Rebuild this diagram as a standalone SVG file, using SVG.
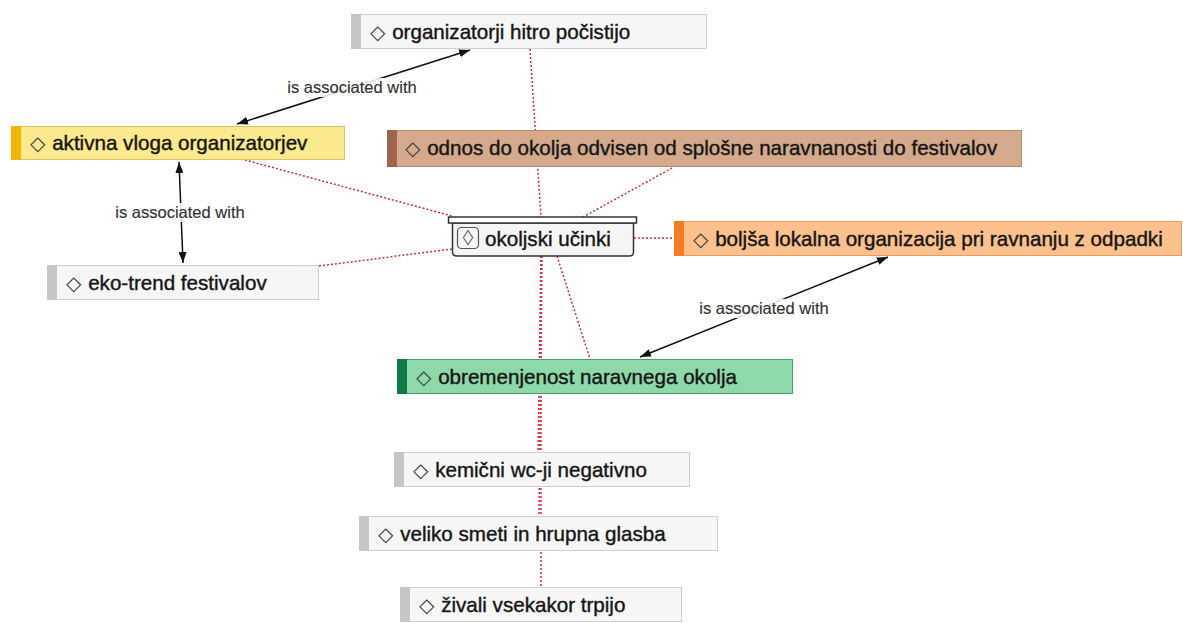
<svg xmlns="http://www.w3.org/2000/svg" width="1183" height="623" viewBox="0 0 1183 623">
<defs>
<marker id="arr" viewBox="0 0 10 10" refX="10" refY="5" markerWidth="11" markerHeight="8" markerUnits="userSpaceOnUse" orient="auto-start-reverse" preserveAspectRatio="none">
<path d="M0,0 L10,5 L0,10 z" fill="#111"/>
</marker>
</defs>
<style>
text{font-family:"Liberation Sans","DejaVu Sans",Arial,sans-serif;}
.t{font-size:20.6px;fill:#161616;stroke:#161616;stroke-width:0.4px;}
.d{font-size:20px;fill:#3a3a3a;stroke:none;}
.lbl{font-size:16.5px;fill:#333;stroke:#333;stroke-width:0.15px;}
.lb{fill:#fff;opacity:0.85;}
.dot{stroke:#c8323c;stroke-width:1.5;stroke-dasharray:2 2;fill:none;}
.assoc{stroke:#111;stroke-width:1.5;fill:none;marker-start:url(#arr);marker-end:url(#arr);}
.gray rect.b{fill:#f6f6f6;stroke:#cfcfcf;}
.gray rect.s{fill:#c6c6c6;}
</style>
<rect width="1183" height="623" fill="#fff"/>
<g id="connectors">
<line class="dot" x1="530" y1="49" x2="541" y2="217"/>
<line class="dot" x1="245" y1="160" x2="452" y2="216"/>
<line class="dot" x1="672" y1="168" x2="583" y2="217"/>
<line class="dot" x1="319" y1="266" x2="452" y2="249"/>
<line class="dot" x1="634" y1="238" x2="674" y2="238"/>
<line class="dot" x1="557" y1="256" x2="590" y2="359"/>
<line class="dot" x1="541" y1="256" x2="538" y2="452"/>
<line class="dot" x1="542" y1="256" x2="539" y2="516"/>
<line class="dot" x1="541" y1="256" x2="541" y2="587"/>
<line class="assoc" x1="237" y1="124" x2="470" y2="50"/>
<rect class="lb" x="284" y="78" width="138" height="19"/>
<text class="lbl" x="352" y="93" text-anchor="middle">is associated with</text>
<line class="assoc" x1="179" y1="162" x2="183" y2="263"/>
<rect class="lb" x="111" y="203" width="138" height="19"/>
<text class="lbl" x="180" y="218" text-anchor="middle">is associated with</text>
<line class="assoc" x1="640" y1="357" x2="888" y2="257"/>
<rect class="lb" x="695" y="299" width="138" height="19"/>
<text class="lbl" x="764" y="314" text-anchor="middle">is associated with</text>
</g>
<g id="n-org" class="gray">
<rect class="b" x="351.5" y="14.5" width="355" height="34"/>
<rect class="s" x="351" y="14" width="10" height="35"/>
<text class="t" x="370" y="39"><tspan class="d">◇</tspan> <tspan dx="1">organizatorji hitro počistijo</tspan></text>
</g>
<g id="n-aktivna">
<rect x="11.5" y="126.5" width="333" height="33" fill="#fbe98e" stroke="#d9c35c"/>
<rect x="11" y="126" width="10" height="34" fill="#f2b705"/>
<text class="t" x="30" y="150"><tspan class="d">◇</tspan> <tspan dx="1">aktivna vloga organizatorjev</tspan></text>
</g>
<g id="n-odnos">
<rect x="387.5" y="130.5" width="634" height="36" fill="#d5aa8c" stroke="#b98a6c"/>
<rect x="387" y="130" width="10" height="37" fill="#a0644a"/>
<text class="t" x="405" y="155"><tspan class="d">◇</tspan> <tspan dx="1">odnos do okolja odvisen od splošne naravnanosti do festivalov</tspan></text>
</g>
<g id="n-center">
<path d="M452.5,223 L633.5,223 L633.5,252 Q633.5,256 629.5,256 L456.5,256 Q452.5,256 452.5,252 Z" fill="#f5f5f5" stroke="#333" stroke-width="1.5"/>
<rect x="448.5" y="217" width="188" height="6" fill="#fff" stroke="#333" stroke-width="1.5"/>
<rect x="457.5" y="227.5" width="21" height="21" rx="4" fill="#f5f5f5" stroke="#555" stroke-width="1.2"/>
<text x="468" y="241.5" text-anchor="middle" style="font-size:16px;fill:#444" transform="translate(468 238) scale(0.85 1.3) translate(-468 -238)">◇</text>
<text class="t" x="485" y="246">okoljski učinki</text>
</g>
<g id="n-boljsa">
<rect x="674.5" y="221.5" width="507" height="34" fill="#fcc08c" stroke="#eb9c5c"/>
<rect x="674" y="221" width="10" height="35" fill="#f57c1f"/>
<text class="t" x="693" y="246"><tspan class="d">◇</tspan> <tspan dx="1">boljša lokalna organizacija pri ravnanju z odpadki</tspan></text>
</g>
<g id="n-eko" class="gray">
<rect class="b" x="47.5" y="265.5" width="271" height="34"/>
<rect class="s" x="47" y="265" width="10" height="35"/>
<text class="t" x="66" y="290"><tspan class="d">◇</tspan> <tspan dx="1">eko-trend festivalov</tspan></text>
</g>
<g id="n-obrem">
<rect x="397.5" y="359.5" width="395" height="34" fill="#8ed9a9" stroke="#4aa16d"/>
<rect x="397" y="359" width="10" height="35" fill="#0f7a45"/>
<text class="t" x="416" y="384"><tspan class="d">◇</tspan> <tspan dx="1">obremenjenost naravnega okolja</tspan></text>
</g>
<g id="n-kemicni" class="gray">
<rect class="b" x="394.5" y="452.5" width="295" height="34"/>
<rect class="s" x="394" y="452" width="10" height="35"/>
<text class="t" x="413" y="477"><tspan class="d">◇</tspan> <tspan dx="1">kemični wc-ji negativno</tspan></text>
</g>
<g id="n-veliko" class="gray">
<rect class="b" x="359.5" y="516.5" width="358" height="34"/>
<rect class="s" x="359" y="516" width="10" height="35"/>
<text class="t" x="378" y="541"><tspan class="d">◇</tspan> <tspan dx="1">veliko smeti in hrupna glasba</tspan></text>
</g>
<g id="n-zivali" class="gray">
<rect class="b" x="400.5" y="587.5" width="281" height="34"/>
<rect class="s" x="400" y="587" width="10" height="35"/>
<text class="t" x="419" y="612"><tspan class="d">◇</tspan> <tspan dx="1">živali vsekakor trpijo</tspan></text>
</g>
</svg>
